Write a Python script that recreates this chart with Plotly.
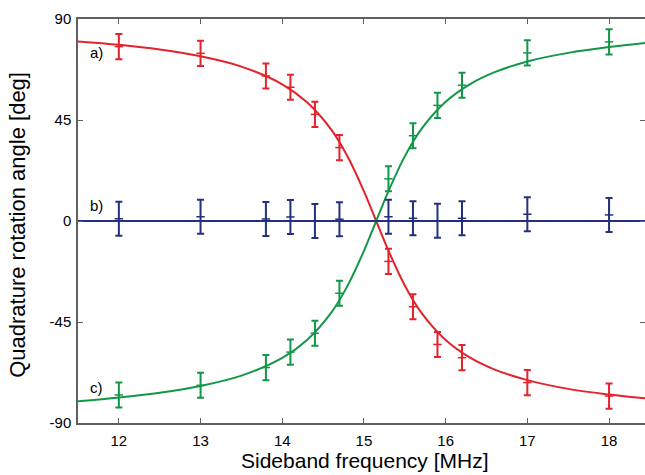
import plotly.graph_objects as go

# ---- data ----
freq = [12, 13, 13.8, 14.1, 14.4, 14.7, 15.3, 15.6, 15.9, 16.2, 17, 18]
angle_a = [77.7, 74.7, 64.6, 59.6, 47.5, 32.7, -18.0, -38.2, -55.0, -60.9, -72.0, -78.0]
angle_b = [1.0, 1.9, 0.9, 1.8, 0.0, 0.8, 1.9, 1.2, 0.1, 1.2, 3.0, 2.7]
angle_c = [-77.5, -73.2, -65.3, -58.4, -50.0, -32.2, 18.8, 38.0, 51.5, 60.5, 74.9, 79.8]
err_ac = [5.6] * 12
err_b = [7.6] * 12

fit_x = [11.5, 12, 12.5, 13, 13.5, 14, 14.3, 14.6, 14.8, 15.0, 15.15, 15.3, 15.5,
         15.7, 16.0, 16.3, 16.6, 17, 17.5, 18, 18.5]
fit_a = [80.0, 78.5, 76.4, 73.4, 68.8, 60.9, 53.0, 40.7, 28.7, 13.2, 0.0, -13.2, -28.7,
         -40.7, -53.0, -60.9, -66.2, -70.9, -74.8, -77.3, -79.2]
fit_c = [-80.3, -78.6, -76.5, -73.5, -68.9, -61.0, -53.1, -40.8, -28.8, -13.3, 0.0, 13.3, 28.8,
         40.8, 53.1, 61.0, 66.3, 71.1, 74.9, 77.5, 79.5]
fit_b_x = [11.5, 18.5]
fit_b = [0, 0]

y_ticks = [90, 45, 0, -45, -90]
y_ticklabels = ["90", "45", "0", "-45", "-90"]
x_ticks = [12, 13, 14, 15, 16, 17, 18]

labels = ["a)", "b)", "c)"]
label_y = [75, 7, -74]

x_title = "Sideband frequency [MHz]"
y_title = "Quadrature rotation angle [deg]"

RED = "#e3232b"
GREEN = "#129748"
BLUE = "#23307e"
FONT = "Liberation Sans, Arial, sans-serif"

fig = go.Figure()

for fy, col in [(fit_a, RED), (fit_c, GREEN)]:
    fig.add_trace(go.Scatter(x=fit_x, y=fy, mode="lines", line=dict(color=col, width=2, shape="spline"),
                             hoverinfo="skip", showlegend=False))
fig.add_trace(go.Scatter(x=fit_b_x, y=fit_b, mode="lines", line=dict(color=BLUE, width=2),
                         showlegend=False))

for ys, es, col in [(angle_a, err_ac, RED), (angle_c, err_ac, GREEN), (angle_b, err_b, BLUE)]:
    fig.add_trace(go.Scatter(
        x=freq, y=ys, mode="markers",
        marker=dict(symbol="line-ew", size=6, line=dict(color=col, width=1.5), color=col),
        error_y=dict(type="data", array=es, visible=True, color=col, thickness=2, width=3.5),
        showlegend=False))

for t, yy in zip(labels, label_y):
    fig.add_annotation(x=11.62, y=yy, text=t, showarrow=False, xanchor="left",
                       font=dict(family=FONT, size=15, color="black"))

# axis titles placed as paper-anchored annotations
fig.add_annotation(xref="paper", yref="paper", x=0.506, y=-0.093, text=x_title, showarrow=False,
                   xanchor="center", yanchor="middle", font=dict(family=FONT, size=21, color="black"))
fig.add_annotation(xref="paper", yref="paper", x=-0.108, y=0.49, text=y_title, showarrow=False,
                   textangle=-90, xanchor="center", yanchor="middle",
                   font=dict(family=FONT, size=22, color="black"))

axis_common = dict(showgrid=False, zeroline=False, showline=True, linecolor="#606060", linewidth=1.5,
                   mirror="ticks", ticks="inside", ticklen=5, tickwidth=1, tickcolor="#606060",
                   automargin=False,
                   tickfont=dict(family=FONT, size=15, color="black"))

fig.update_xaxes(range=[11.5, 18.44], tickvals=x_ticks, ticklabelstandoff=3, **axis_common)
fig.update_yaxes(range=[-90, 90], tickvals=y_ticks, ticktext=y_ticklabels, ticklabelstandoff=2,
                 **axis_common)

fig.update_layout(width=645, height=475, margin=dict(l=78, r=0, t=19, b=52),
                  plot_bgcolor="white", paper_bgcolor="white")

fig.write_html("out.html", config={"displayModeBar": False},
               post_script="document.body.style.margin='0';document.body.style.overflow='hidden';")
